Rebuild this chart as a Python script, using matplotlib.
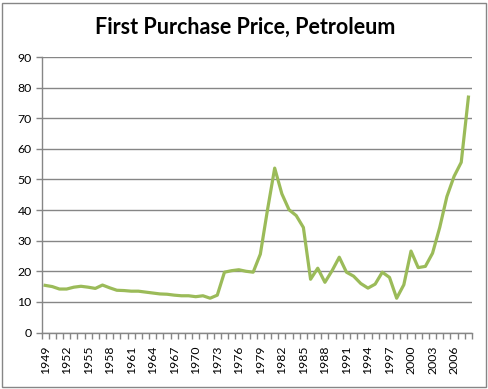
import numpy as np
import matplotlib.pyplot as plt
from matplotlib.patches import Rectangle

# data
years = list(range(1949, 2009))
price = [15.4, 15.0, 14.2, 14.2, 14.8, 15.1, 14.8, 14.4, 15.5, 14.6,
         13.8, 13.7, 13.5, 13.5, 13.2, 12.9, 12.6, 12.5, 12.2, 12.0,
         12.0, 11.7, 12.0, 11.2, 12.2, 19.7, 20.2, 20.5, 20.0, 19.7,
         25.6, 40.1, 53.7, 45.3, 40.1, 38.2, 34.3, 17.4, 21.0, 16.4,
         20.2, 24.6, 19.7, 18.4, 16.0, 14.5, 15.8, 19.7, 18.0, 11.2,
         15.6, 26.6, 21.2, 21.6, 25.9, 34.3, 44.4, 51.0, 55.6, 76.9]
yticks = list(range(0, 91, 10))

grey = '#868686'
W, H = 488, 389

fig = plt.figure(figsize=(W / 100, H / 100), dpi=100)
plt.rcParams['font.family'] = ['Lato', 'DejaVu Sans']

# outer chart border
fig.patches.append(Rectangle((1.5 / W, 2.5 / H), (W - 3.5) / W, (H - 5) / H,
                             transform=fig.transFigure, fill=False,
                             edgecolor=grey, linewidth=1))

left, right, top, bottom = 41.5, 472, 57, 332.5
ax = fig.add_axes([left / W, 1 - bottom / H, (right - left) / W, (bottom - top) / H])

x = np.arange(len(years))
ax.plot(x, price, color='#9BBB59', linewidth=2.3, solid_joinstyle='round')

ax.set_ylim(0, 90)
ax.set_yticks(yticks)
ax.set_xlim(-0.5, len(years) - 0.5)
ax.yaxis.grid(True, color=grey, linewidth=1)
ax.set_axisbelow(True)

ax.set_xticks(x[::3])
ax.set_xticklabels([str(y) for y in years[::3]], rotation=90, fontsize=8.8)
ax.set_xticks(np.arange(-0.5, len(years)), minor=True)
ax.tick_params(axis='x', which='major', length=0, pad=9.5)
ax.tick_params(axis='x', which='minor', length=4, color=grey, width=1)
ax.tick_params(axis='y', length=4, color=grey, width=1, labelsize=8.8, pad=3)

for s in ['top', 'right']:
    ax.spines[s].set_visible(False)
for s in ['left', 'bottom']:
    ax.spines[s].set_color(grey)
    ax.spines[s].set_linewidth(1)

fig.text(0.502, 1 - 27 / H, 'First Purchase Price, Petroleum', ha='center', va='center',
         fontsize=15.5, fontweight='bold')

fig.savefig('out.png', dpi=100)
